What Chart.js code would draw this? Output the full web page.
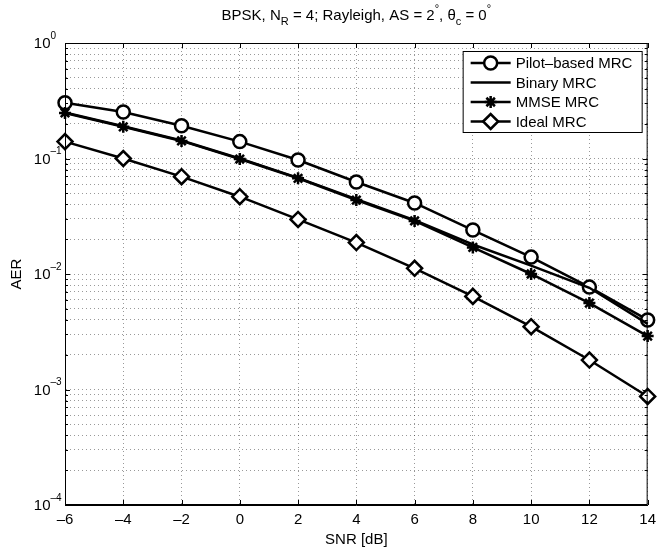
<!DOCTYPE html>
<html>
<head>
<meta charset="utf-8">
<title>AER vs SNR</title>
<script src="https://cdn.jsdelivr.net/npm/chart.js@4.4.0/dist/chart.umd.min.js"></script>
<style>
    html, body { margin: 0; padding: 0; background: #fff; }
    #wrap { width: 662px; height: 550px; }
</style>
</head>
<body>
<div id="wrap"><canvas id="aerChart" width="662" height="550"></canvas></div>
<script>
// values
const snrDb = [-6, -4, -2, 0, 2, 4, 6, 8, 10, 12, 14];
const pilotMrc  = [0.304, 0.253, 0.192, 0.140, 0.097, 0.0626, 0.0412, 0.0240, 0.0140, 0.0077, 0.0040];
const binaryMrc = [0.250, 0.190, 0.143, 0.100, 0.068, 0.0445, 0.0293, 0.0180, 0.0118, 0.0076, 0.0037];
const mmseMrc   = [0.248, 0.188, 0.142, 0.099, 0.0674, 0.0437, 0.0288, 0.0170, 0.0100, 0.0056, 0.0029];
const idealMrc  = [0.140, 0.100, 0.0696, 0.0467, 0.0297, 0.0187, 0.0112, 0.0064, 0.0035, 0.0018, 0.00087];

const xTicks = [-6, -4, -2, 0, 2, 4, 6, 8, 10, 12, 14];
const yDecades = [-4, -3, -2, -1, 0];
const seriesNames = ['Pilot\u2013based MRC', 'Binary MRC', 'MMSE MRC', 'Ideal MRC'];

const FONT = '"Liberation Sans", Arial, Helvetica, sans-serif';

function toPoints(values) {
    return snrDb.map((x, i) => ({ x: x, y: values[i] }));
}

// all tick positions on the log axis (decades + 2..9 minors)
function logTickValues() {
    const vals = [];
    for (let e = yDecades[0]; e < yDecades[yDecades.length - 1]; e++) {
        for (let m = 1; m <= 9; m++) {
            vals.push({ value: m * Math.pow(10, e), major: m === 1 });
        }
    }
    vals.push({ value: Math.pow(10, yDecades[yDecades.length - 1]), major: true });
    return vals;
}

function minusSign(v) {
    return v < 0 ? '\u2013' + Math.abs(v) : String(v);
}

// draws text pieces with sub/superscripts, centred on cx
function drawRichText(ctx, pieces, cx, cy, size) {
    const small = Math.round(size * 0.7);
    let total = 0;
    pieces.forEach(p => {
        ctx.font = (p.mode === 'n' ? size : small) + 'px ' + FONT;
        p.w = ctx.measureText(p.t).width;
        total += p.w;
    });
    let x = cx - total / 2;
    ctx.textAlign = 'left';
    ctx.textBaseline = 'middle';
    pieces.forEach(p => {
        ctx.font = (p.mode === 'n' ? size : small) + 'px ' + FONT;
        let y = cy;
        if (p.mode === 'sub') y = cy + 6;
        if (p.mode === 'sup') y = cy - 7;
        ctx.fillText(p.t, x, y);
        x += p.w;
    });
}

const matlabLook = {
    id: 'matlabLook',
    afterDatasetsDraw(chart) {
        const ctx = chart.ctx;
        const { left, right, top, bottom } = chart.chartArea;
        const xs = chart.scales.x;
        const ys = chart.scales.y;

        ctx.save();
        ctx.strokeStyle = '#000';
        ctx.lineWidth = 1;
        ctx.strokeRect(left + 0.5, top + 0.5, right - left - 1, bottom - top - 1);

        // inward tick marks on all four sides
        ctx.beginPath();
        xTicks.forEach(v => {
            const px = Math.round(xs.getPixelForValue(v)) + 0.5;
            ctx.moveTo(px, bottom); ctx.lineTo(px, bottom - 5);
            ctx.moveTo(px, top); ctx.lineTo(px, top + 5);
        });
        ys.ticks.forEach(t => {
            const py = Math.round(ys.getPixelForValue(t.value)) + 0.5;
            const len = t.major ? 5 : 3;
            ctx.moveTo(left, py); ctx.lineTo(left + len, py);
            ctx.moveTo(right, py); ctx.lineTo(right - len, py);
        });
        ctx.stroke();

        // legend box, MATLAB style
        const boxW = 179, boxH = 81;
        const bx = right - 6 - boxW, by = top + 8;
        ctx.fillStyle = '#fff';
        ctx.fillRect(bx, by, boxW, boxH);
        ctx.strokeRect(bx + 0.5, by + 0.5, boxW, boxH);
        chart.data.datasets.forEach((ds, i) => {
            const ly = by + 12 + i * 19.5;
            ctx.strokeStyle = '#000';
            ctx.lineWidth = ds.borderWidth;
            ctx.beginPath();
            ctx.moveTo(bx + 8, ly);
            ctx.lineTo(bx + 48, ly);
            ctx.stroke();
            if (ds.pointRadius > 0) {
                ctx.fillStyle = ds.pointBackgroundColor;
                ctx.lineWidth = ds.pointBorderWidth;
                Chart.helpers.drawPoint(ctx, {
                    pointStyle: ds.pointStyle,
                    radius: ds.pointRadius,
                    borderWidth: ds.pointBorderWidth,
                    rotation: 0
                }, bx + 28, ly);
            }
            ctx.fillStyle = '#000';
            ctx.font = '15px ' + FONT;
            ctx.textAlign = 'left';
            ctx.textBaseline = 'middle';
            ctx.fillText(ds.label, bx + 53, ly + 1);
        });
        ctx.restore();
    },
    afterDraw(chart) {
        const ctx = chart.ctx;
        const { left, right } = chart.chartArea;
        const ys = chart.scales.y;
        ctx.save();
        ctx.fillStyle = '#000';

        // y tick labels as 10^n
        yDecades.forEach(e => {
            const py = ys.getPixelForValue(Math.pow(10, e));
            ctx.font = '15px ' + FONT;
            ctx.textAlign = 'right';
            ctx.textBaseline = 'middle';
            ctx.fillText('10', left - 14.5, py + 1);
            ctx.font = '10px ' + FONT;
            ctx.textAlign = 'left';
            ctx.fillText(minusSign(e), left - 14.5, py - 7);
        });

        // title with sub/superscripts
        drawRichText(ctx, [
            { t: 'BPSK, N', mode: 'n' },
            { t: 'R', mode: 'sub' },
            { t: ' = 4; Rayleigh, AS = 2', mode: 'n' },
            { t: '\u00b0', mode: 'sup' },
            { t: ', \u03b8', mode: 'n' },
            { t: 'c', mode: 'sub' },
            { t: ' = 0', mode: 'n' },
            { t: '\u00b0', mode: 'sup' }
        ], (left + right) / 2, 16, 15);
        ctx.restore();
    }
};

const ctx = document.getElementById('aerChart').getContext('2d');
const aerChart = new Chart(ctx, {
    type: 'line',
    data: {
        datasets: [{
            label: seriesNames[0],
            data: toPoints(pilotMrc),
            borderColor: '#000',
            borderWidth: 2.5,
            pointStyle: 'circle',
            pointRadius: 6.5,
            pointBackgroundColor: '#fff',
            pointBorderColor: '#000',
            pointBorderWidth: 2.5,
            order: 4
        }, {
            label: seriesNames[1],
            data: toPoints(binaryMrc),
            borderColor: '#000',
            borderWidth: 2.5,
            pointRadius: 0,
            order: 3
        }, {
            label: seriesNames[2],
            data: toPoints(mmseMrc),
            borderColor: '#000',
            borderWidth: 2.5,
            pointStyle: 'star',
            pointRadius: 6,
            pointBackgroundColor: '#000',
            pointBorderColor: '#000',
            pointBorderWidth: 2.5,
            order: 2
        }, {
            label: seriesNames[3],
            data: toPoints(idealMrc),
            borderColor: '#000',
            borderWidth: 2.5,
            pointStyle: 'rectRot',
            pointRadius: 7.5,
            pointBackgroundColor: '#fff',
            pointBorderColor: '#000',
            pointBorderWidth: 2.5,
            order: 1
        }]
    },
    options: {
        responsive: false,
        animation: false,
        events: [],
        clip: false,
        layout: { padding: { top: 43, right: 10, left: 0, bottom: 0 } },
        elements: { line: { tension: 0 } },
        plugins: {
            legend: { display: false },
            tooltip: { enabled: false },
            title: { display: false }
        },
        scales: {
            x: {
                type: 'linear',
                min: -6,
                max: 14,
                afterBuildTicks: scale => { scale.ticks = xTicks.map(v => ({ value: v })); },
                afterFit: scale => { scale.height = 45; },
                ticks: {
                    autoSkip: false,
                    maxRotation: 0,
                    padding: 6,
                    color: '#000',
                    font: { family: FONT, size: 15 },
                    callback: v => minusSign(v)
                },
                grid: { color: 'rgba(0,0,0,0.4)', lineWidth: 1, drawTicks: false },
                border: { display: true, color: '#000', width: 1, dash: [1, 3] },
                title: {
                    display: true,
                    text: 'SNR [dB]',
                    color: '#000',
                    font: { family: FONT, size: 15 },
                    padding: { top: 0, bottom: 1 }
                }
            },
            y: {
                type: 'logarithmic',
                min: 1e-4,
                max: 1,
                afterBuildTicks: scale => { scale.ticks = logTickValues(); },
                afterFit: scale => { scale.width = 65; },
                ticks: { display: false },
                grid: { color: 'rgba(0,0,0,0.4)', lineWidth: 1, drawTicks: false },
                border: { display: true, color: '#000', width: 1, dash: [1, 3] },
                title: {
                    display: true,
                    text: 'AER',
                    color: '#000',
                    font: { family: FONT, size: 15 },
                    padding: { top: 8, bottom: 0 }
                }
            }
        }
    },
    plugins: [matlabLook]
});
</script>
</body>
</html>
